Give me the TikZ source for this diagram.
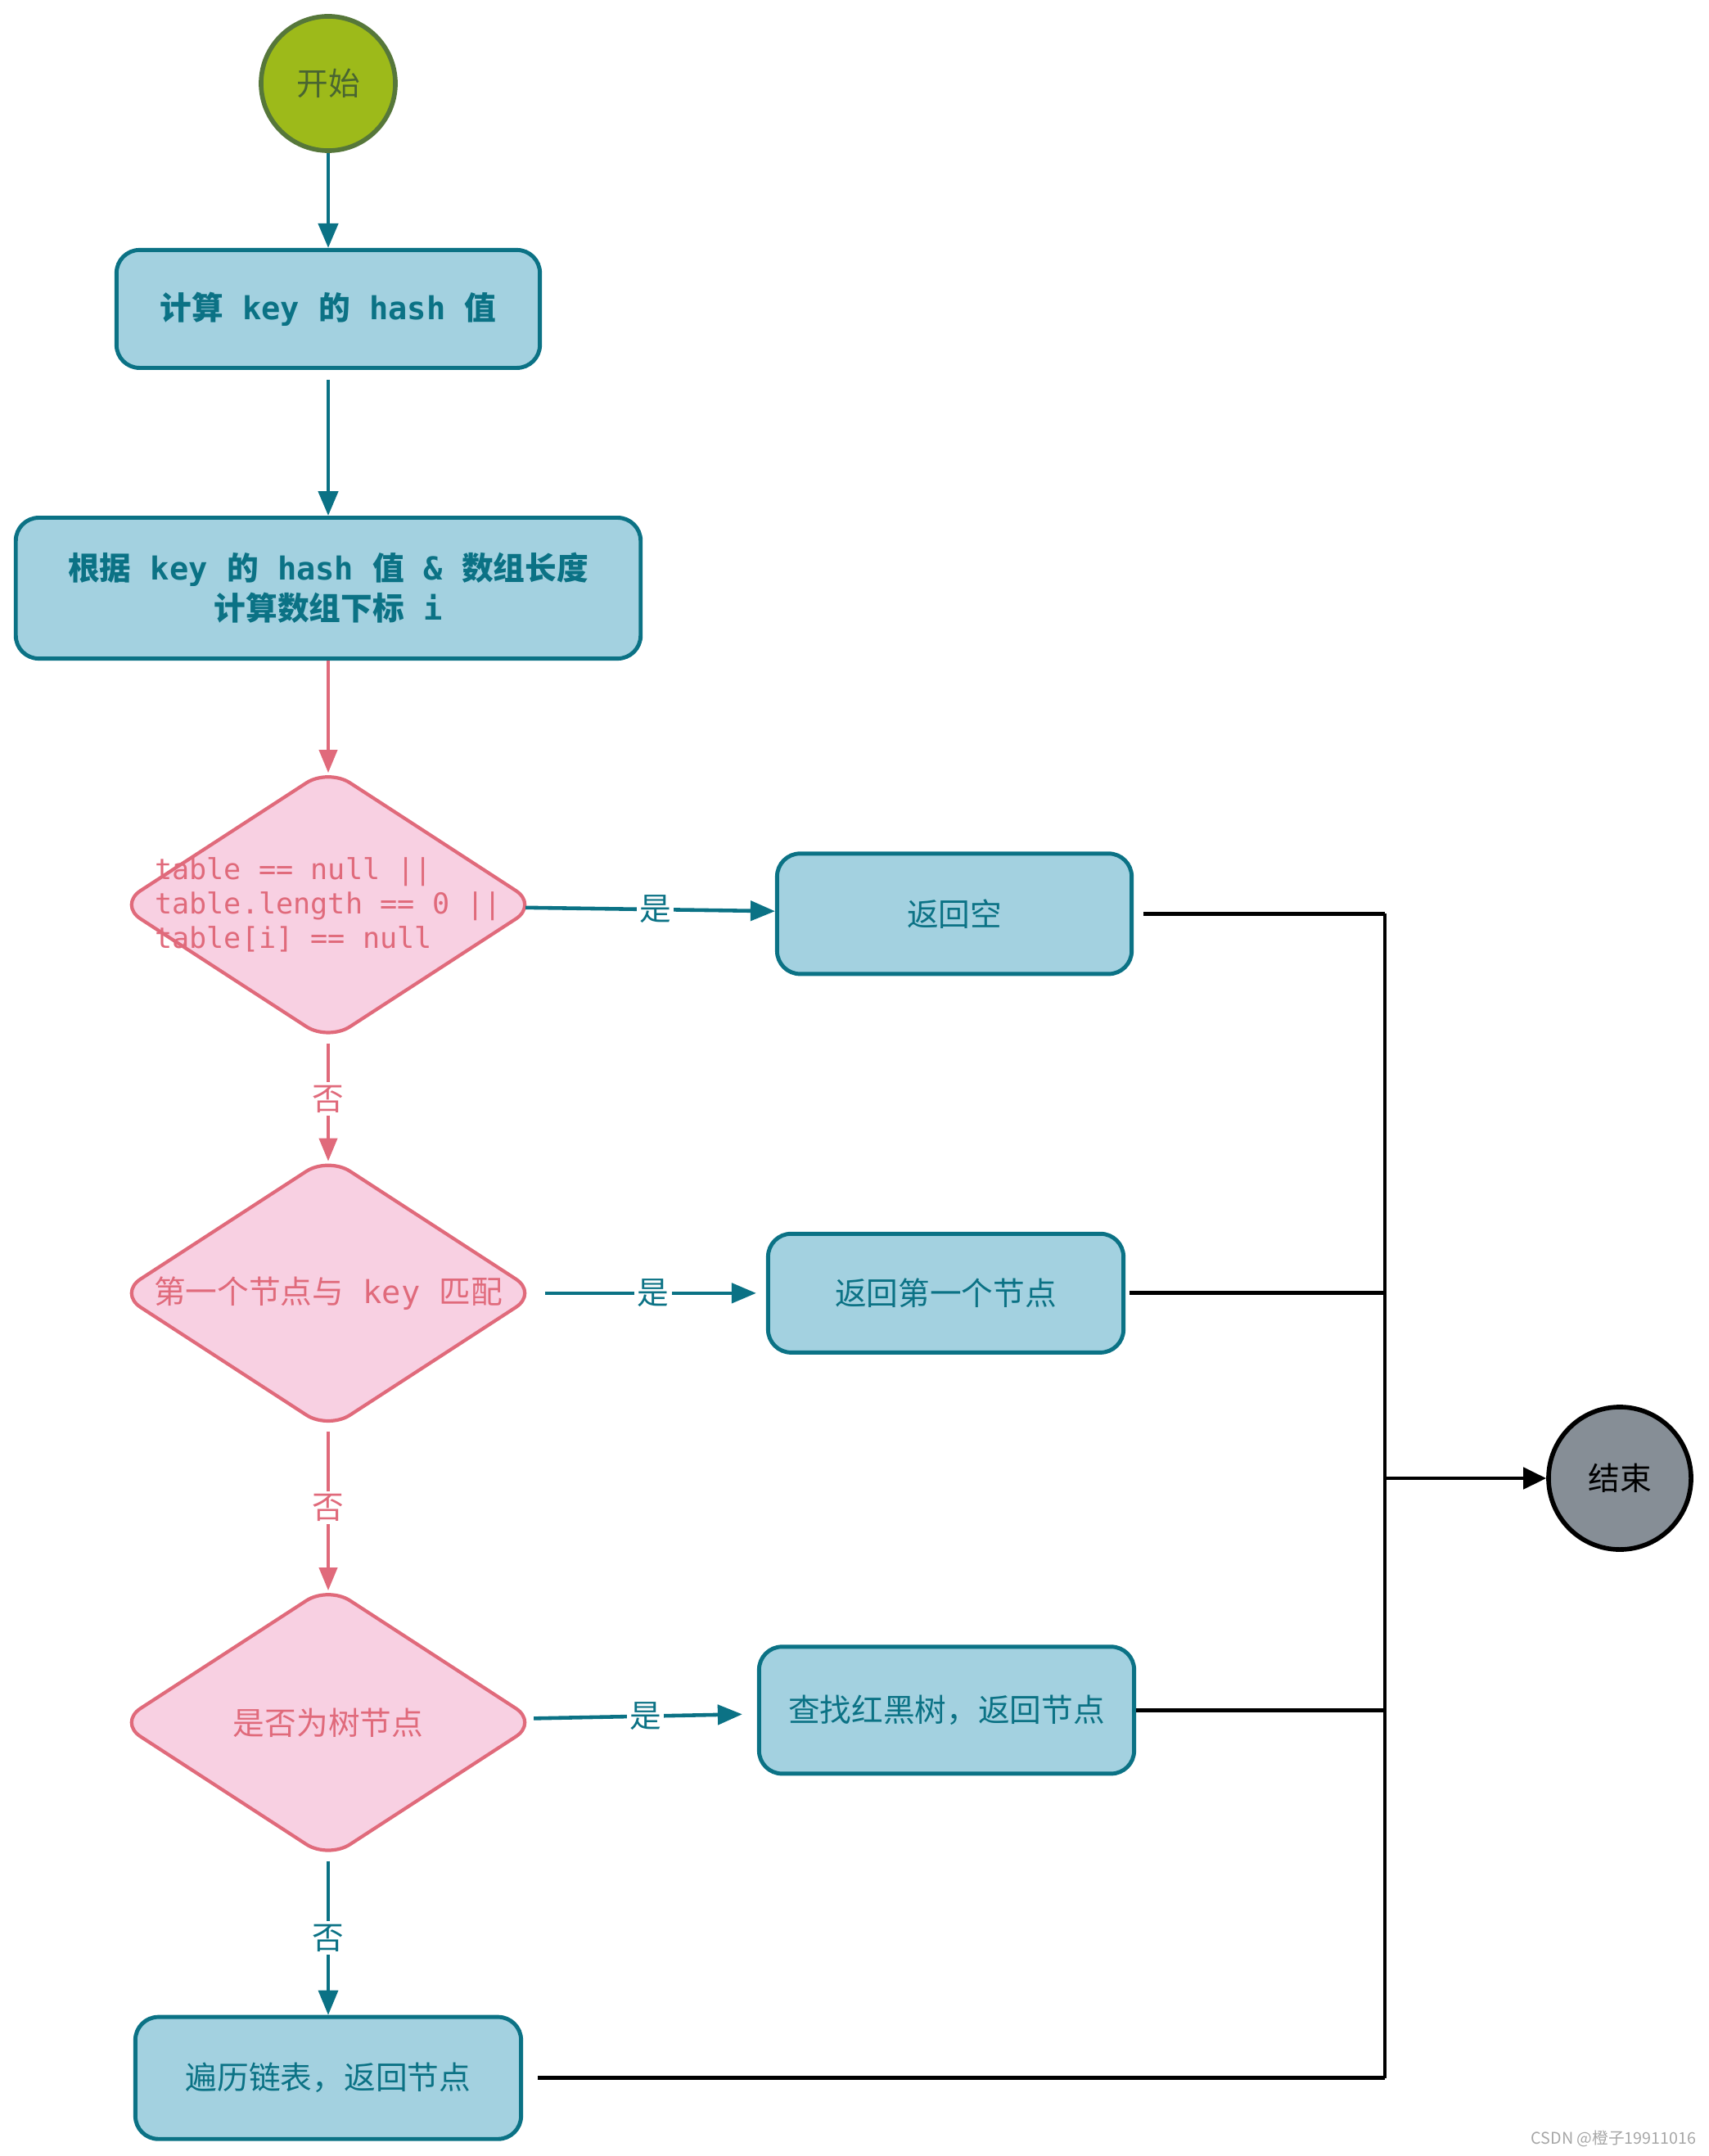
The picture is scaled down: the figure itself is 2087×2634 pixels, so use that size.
\documentclass[tikz,border=0pt]{standalone}
\usepackage{fontspec}
\setmainfont{Noto Sans CJK SC}
\setmonofont{DejaVu Sans Mono}
\usepackage{tikz}
\usetikzlibrary{shapes.geometric, arrows.meta, positioning}
\definecolor{flowteal}{HTML}{0B7285}
\definecolor{boxblue}{HTML}{A3D1E0}
\definecolor{rosepink}{HTML}{E06A7B}
\definecolor{rosefill}{HTML}{F8D0E2}
\definecolor{leafgreen}{HTML}{9DBA1A}
\definecolor{leafdark}{HTML}{56773A}
\definecolor{endgray}{HTML}{868E96}
\definecolor{markgray}{HTML}{A6A6A6}

\begin{document}
\begin{tikzpicture}[
  x=0.01cm, y=-0.01cm,
  font=\fontsize{11}{14}\selectfont,
  term/.style={circle, draw, line width=1.6pt, minimum size=1.64cm, inner sep=0pt},
  proc/.style={rectangle, rounded corners=8pt, draw=flowteal, line width=1.4pt,
               fill=boxblue, text=flowteal, minimum height=1.47cm, align=center},
  boldtxt/.style={font=\fontsize{11}{14}\selectfont\bfseries},
  decide/.style={diamond, rounded corners=9pt, draw=rosepink, line width=1.2pt,
                 fill=rosefill, minimum width=5.13cm, minimum height=3.34cm, inner sep=0pt},
  dtext/.style={text=rosepink, align=left},
  flow/.style={-{Triangle[length=0.3cm, width=0.24cm]}, line width=1.3pt, color=flowteal},
  pinkflow/.style={-{Triangle[length=0.28cm, width=0.22cm]}, line width=1.1pt, color=rosepink},
  bus/.style={line width=1.4pt, black},
  lbl/.style={fill=white, inner sep=1pt, text=flowteal},
  plbl/.style={fill=white, inner sep=1pt, text=rosepink},
]
\useasboundingbox (0,0) rectangle (2087,2634);

% main column
\node[term, fill=leafgreen, draw=leafdark, text=leafdark!85!black] (start) at (401,102) {开始};
\node[proc, boldtxt, minimum width=5.17cm, minimum height=1.44cm, below=1.16cm of start] (hash)
  {计算\texttt{ key }的\texttt{ hash }值};
\node[proc, boldtxt, minimum width=7.63cm, minimum height=1.72cm, below=1.78cm of hash] (index)
  {根据\texttt{ key }的\texttt{ hash }值\texttt{ \& }数组长度\\计算数组下标\texttt{ i}};
\node[decide, below=1.29cm of index,
      label={[dtext, font=\fontsize{10}{12}\selectfont\ttfamily]center:{table == null ||\\table.length == 0 ||\\table[i] == null}}] (dia1) {};
\node[decide, below=1.36cm of dia1,
      label={[dtext]center:{第一个节点与\texttt{ key }匹配}}] (dia2) {};
\node[decide, below=1.86cm of dia2,
      label={[dtext]center:{是否为树节点}}] (dia3) {};
\node[proc, minimum width=4.71cm, minimum height=1.49cm, below=1.88cm of dia3] (list) {遍历链表，返回节点};

% right column
\node[proc, minimum width=4.33cm, right=2.87cm of dia1, yshift=-0.11cm] (null) {返回空};
\node[proc, minimum width=4.34cm, minimum height=1.45cm, right=2.76cm of dia2] (first) {返回第一个节点};
\node[proc, minimum width=4.58cm, minimum height=1.55cm, right=2.65cm of dia3, yshift=0.15cm] (tree) {查找红黑树，返回节点};
\node[term, fill=endgray, draw=black, minimum size=1.74cm] (end) at (1979,1806) {结束};

% connectors
\draw[flow] (start) -- (hash);
\draw[flow, shorten <=0.12cm] (hash) -- (index);
\draw[pinkflow, shorten >=-0.08cm] (index) -- (dia1);
\draw[flow, shorten <=-0.12cm] (dia1) -- node[lbl] {是} (null);
\draw[pinkflow, shorten >=-0.08cm] (dia1) -- node[plbl] {否} (dia2);
\draw[flow, shorten <=0.06cm, shorten >=0.12cm] (dia2) -- node[lbl] {是} (first);
\draw[pinkflow, shorten >=-0.08cm] (dia2) -- node[plbl] {否} (dia3);
\draw[flow, shorten >=0.18cm] (dia3) -- node[lbl] {是} (tree);
\draw[flow, line width=0.9pt] (dia3) -- node[lbl] {否} (list);

% collecting line to the end node
\coordinate (bus) at (1692,0);
\draw[bus, shorten <=0.12cm] (null.east) -- (null.east -| bus);
\draw[bus, shorten <=0.05cm] (first.east) -- (first.east -| bus);
\draw[bus] (tree.east) -- (tree.east -| bus);
\draw[bus, shorten <=0.18cm] (list.east) -- (list.east -| bus);
\draw[bus] (null.east -| bus) -- (list.east -| bus);
\draw[bus, -{Triangle[length=0.28cm, width=0.26cm]}] (end.west -| bus) -- (end);

\node[anchor=south east, text=markgray, font=\fontsize{5.6}{6}\selectfont, inner sep=0pt] (mark)
  at (2073,2624) {CSDN @橙子19911016};
\end{tikzpicture}
\end{document}
